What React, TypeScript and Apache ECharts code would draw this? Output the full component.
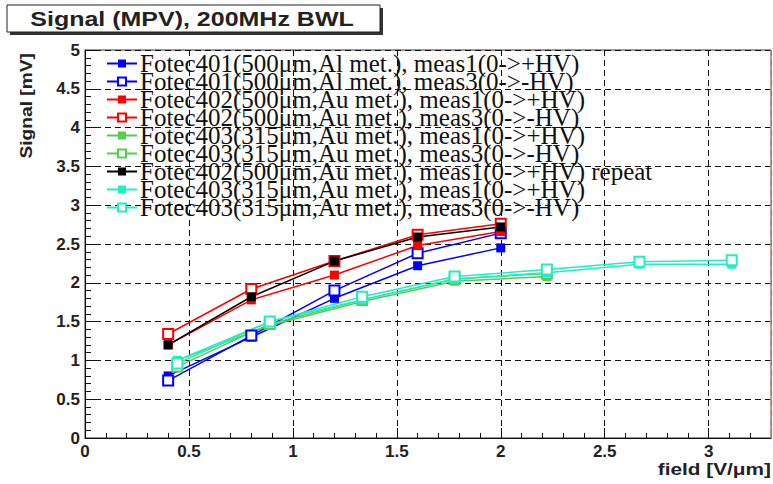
import React, { useEffect, useRef } from "react";
import * as echarts from "echarts";

const x500 = [0.4, 0.8, 1.2, 1.6, 2.0];
const x315a = [0.444, 0.889, 1.333, 1.778, 2.222];
const x315b = [0.444, 0.889, 1.333, 1.778, 2.222, 2.667, 3.111];

const f401m1 = [0.8, 1.3, 1.8, 2.22, 2.45];
const f401m3 = [0.74, 1.32, 1.9, 2.38, 2.64];
const f402m1 = [1.2, 1.78, 2.1, 2.48, 2.66];
const f402m3 = [1.34, 1.92, 2.28, 2.62, 2.76];
const f403m1 = [1.0, 1.45, 1.76, 2.02, 2.08];
const f403m3 = [0.92, 1.47, 1.78, 2.05, 2.12];
const f402m1rep = [1.2, 1.82, 2.28, 2.59, 2.72];
const f403m1b = [1.0, 1.5, 1.78, 2.05, 2.13, 2.24, 2.24];
const f403m3b = [0.96, 1.5, 1.82, 2.08, 2.17, 2.27, 2.29];

const names = [
  "Fotec401(500μm,Al met.), meas1(0->+HV)",
  "Fotec401(500μm,Al met.), meas3(0->-HV)",
  "Fotec402(500μm,Au met.), meas1(0->+HV)",
  "Fotec402(500μm,Au met.), meas3(0->-HV)",
  "Fotec403(315μm,Au met.), meas1(0->+HV)",
  "Fotec403(315μm,Au met.), meas3(0->-HV)",
  "Fotec402(500μm,Au met.), meas1(0->+HV) repeat",
  "Fotec403(315μm,Au met.), meas1(0->+HV) ",
  "Fotec403(315μm,Au met.), meas3(0->-HV) ",
];

const xTicks = [0, 0.5, 1, 1.5, 2, 2.5, 3];

export default function App() {
  const ref = useRef<HTMLDivElement>(null);
  useEffect(() => {
    if (!ref.current) return;
    const chart = echarts.init(ref.current, null, { renderer: "svg" });
    const mk = (name: string, xs: number[], ys: number[], color: string, open: boolean) => ({
      name,
      type: "line",
      data: xs.map((x, i) => [x, ys[i]]),
      symbol: open ? "emptyRect" : "rect",
      symbolSize: open ? 10 : 9,
      color,
      lineStyle: { color, width: 1.5 },
      itemStyle: { color, borderColor: color, borderWidth: open ? 1.5 : 0 },
    });
    const green = "#55cc55";
    const cyan = "#22eec4";
    const series = [
      mk(names[0], x500, f401m1, "#0000ff", false),
      mk(names[1], x500, f401m3, "#0000ff", true),
      mk(names[2], x500, f402m1, "#ff0000", false),
      mk(names[3], x500, f402m3, "#ff0000", true),
      mk(names[4], x315a, f403m1, green, false),
      mk(names[5], x315a, f403m3, green, true),
      mk(names[6], x500, f402m1rep, "#000000", false),
      mk(names[7], x315b, f403m1b, cyan, false),
      mk(names[8], x315b, f403m3b, cyan, true),
    ];
    const tickFont = { fontFamily: "Liberation Sans", fontWeight: "bold" as const, fontSize: 17, color: "#222" };
    chart.setOption({
      animation: false,
      backgroundColor: "#ffffff",
      grid: { left: 85, right: 2, top: 50, bottom: 46, show: true, borderColor: "#333", borderWidth: 1, containLabel: false },
      xAxis: {
        type: "value",
        min: 0,
        max: 3.3,
        interval: 0.5,
        axisLine: { show: true, onZero: false, lineStyle: { color: "#111" } },
        axisTick: { show: true, inside: true, length: 10, lineStyle: { color: "#111" } },
        minorTick: { show: true, splitNumber: 5, length: 5, lineStyle: { color: "#111" } },
        splitLine: { show: true, lineStyle: { color: "#111", type: [6, 4], width: 1 } },
        axisLabel: { ...tickFont, margin: 5, showMaxLabel: false, formatter: (v: number) => (xTicks.includes(v) ? String(v) : "") },
      },
      yAxis: {
        type: "value",
        min: 0,
        max: 5,
        interval: 0.5,
        axisLine: { show: true, onZero: false, lineStyle: { color: "#111" } },
        axisTick: { show: true, inside: true, length: 12, lineStyle: { color: "#111" } },
        minorTick: { show: true, splitNumber: 5, length: 6, lineStyle: { color: "#111" } },
        splitLine: { show: true, lineStyle: { color: "#111", type: [6, 4], width: 1 } },
        axisLabel: { ...tickFont, margin: 5 },
      },
      legend: {
        orient: "vertical",
        left: 106,
        top: 51,
        itemWidth: 30,
        itemHeight: 10,
        itemGap: -7,
        padding: 0,
        formatter: (n: string) => n.trim(),
        textStyle: { fontFamily: "Liberation Serif", fontSize: 25, color: "#111", padding: [0, 0, 0, -2] },
        data: names,
      },
      graphic: [
        { type: "rect", shape: { x: 10, y: 8, width: 373, height: 27 }, style: { fill: "#333" }, z: 10 },
        { type: "rect", shape: { x: 7, y: 5, width: 373, height: 27 }, style: { fill: "#fff", stroke: "#222", lineWidth: 1 }, z: 11 },
        {
          type: "text",
          x: 192,
          y: 19,
          scaleX: 1.25,
          z: 12,
          style: { text: "Signal (MPV), 200MHz BWL", fontFamily: "Liberation Sans", fontWeight: "bold", fontSize: 20, fill: "#222", align: "center", verticalAlign: "middle" },
        },
        {
          type: "text",
          x: 27,
          y: 53,
          rotation: Math.PI / 2,
          scaleX: 1.2,
          style: { text: "Signal [mV]", fontFamily: "Liberation Sans", fontWeight: "bold", fontSize: 16, fill: "#222", align: "right", verticalAlign: "middle" },
        },
        {
          type: "text",
          x: 771,
          y: 469,
          scaleX: 1.3,
          style: { text: "field [V/μm]", fontFamily: "Liberation Sans", fontWeight: "bold", fontSize: 16, fill: "#222", align: "right", verticalAlign: "middle" },
        },
        { type: "line", shape: { x1: 771, y1: 50, x2: 771, y2: 438 }, style: { stroke: "#e09090", lineWidth: 1.5 }, z: 5 },
      ],
      series,
    });
    return () => chart.dispose();
  }, []);
  return <div ref={ref} style={{ width: 773, height: 484, position: "absolute", left: 0, top: 0 }} />;
}
